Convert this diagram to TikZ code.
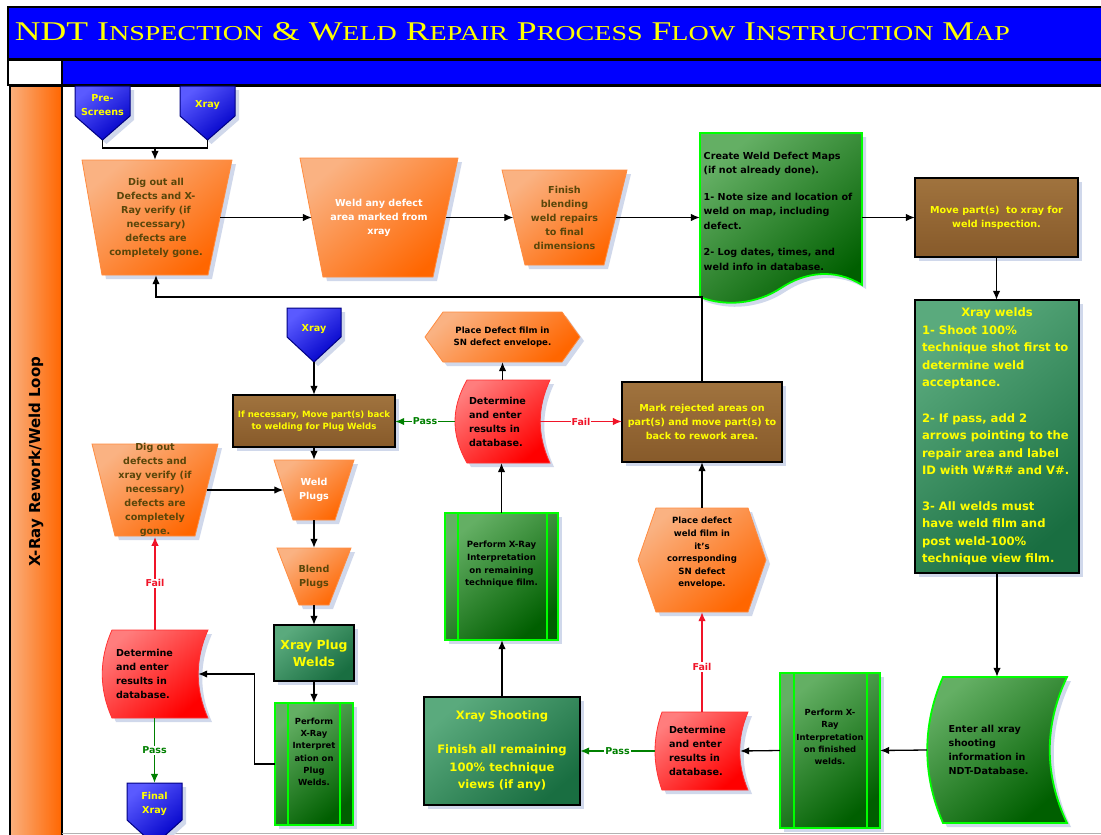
\documentclass[tikz,border=0pt]{standalone}
\usepackage{graphicx}
\usepackage{fontspec}
\setmainfont{DejaVu Sans}
\newfontfamily\titlefont{Liberation Serif}
\usetikzlibrary{arrows.meta,shadows}
\definecolor{orM}{RGB}{255,102,0}
\definecolor{orL}{RGB}{250,178,130}
\definecolor{orT}{RGB}{90,70,10}
\definecolor{blM}{RGB}{0,0,240}
\definecolor{blB}{RGB}{0,0,200}
\definecolor{blL}{RGB}{90,90,255}
\definecolor{blD}{RGB}{0,0,130}
\definecolor{brM}{RGB}{135,90,42}
\definecolor{brL}{RGB}{160,115,62}
\definecolor{grD}{RGB}{0,125,0}
\definecolor{grB2}{RGB}{0,95,0}
\definecolor{grL}{RGB}{100,175,100}
\definecolor{grB}{RGB}{0,255,0}
\definecolor{tlD}{RGB}{25,110,65}
\definecolor{tlM}{RGB}{40,140,90}
\definecolor{tlL}{RGB}{90,170,125}
\definecolor{rdM}{RGB}{255,0,0}
\definecolor{rdL}{RGB}{255,125,125}
\definecolor{ylw}{RGB}{255,255,0}
\definecolor{psG}{RGB}{0,128,0}
\definecolor{flR}{RGB}{240,20,40}
\definecolor{shd}{RGB}{208,216,235}
\definecolor{laneL}{RGB}{250,175,125}
\newcommand\Tsm[1]{{\fontsize{22}{22}\selectfont #1}}
\tikzset{
  sh/.style={drop shadow={shadow xshift=4pt,shadow yshift=-4pt,fill=shd,opacity=1}},
  orsh/.style={sh,top color=orL,middle color=orM,bottom color=orM,shading angle=40,draw=orM!75!white,line width=0.8pt},
  blsh/.style={sh,top color=blL,middle color=blM,bottom color=blB,shading angle=40,draw=blD,line width=1pt},
  brsh/.style={sh,top color=brL,bottom color=brM,draw=black,line width=2.2pt},
  grsh/.style={sh,top color=grL,middle color=grD,bottom color=grB2,shading angle=40,draw=grB,line width=1.8pt},
  tlsh/.style={sh,top color=tlL,middle color=tlM,bottom color=tlD,shading angle=40,draw=black,line width=2.5pt},
  rdsh/.style={sh,top color=rdL,middle color=rdM,bottom color=rdM,shading angle=40,draw=rdM!80!white,line width=0.8pt},
  hold/.style 2 args={inner sep=0pt,minimum width=#1pt,minimum height=#2pt},
  tb/.style={align=center,font=\bfseries\fontsize{9.6}{14}\selectfont},
  tbs/.style={align=center,font=\bfseries\fontsize{8.6}{12.6}\selectfont},
  tbp/.style={align=center,font=\bfseries\fontsize{8.4}{12.3}\selectfont},
  tbb/.style={align=center,font=\bfseries\fontsize{11.6}{17.5}\selectfont},
  otx/.style={tb,text=orT},
  wtx/.style={tb,text=white},
  ktx/.style={tb,text=black},
  ytx/.style={tb,text=ylw},
  ln/.style={draw=black,line width=1.3pt},
  arr/.style={ln,-{Latex[length=9pt,width=7.5pt]}},
  arrP/.style={arr,draw=psG},
  arrF/.style={arr,draw=flR},
  passlbl/.style={fill=white,inner sep=1pt,text=psG,font=\bfseries\fontsize{9.5}{10}\selectfont},
  faillbl/.style={fill=white,inner sep=1pt,text=flR,font=\bfseries\fontsize{9.5}{10}\selectfont},
}
\begin{document}
\begin{tikzpicture}[x=1pt,y=-1pt]
\useasboundingbox (0,0) rectangle (1101,835);
\fill[white] (0,0) rectangle (1101,835);
% header
\draw[black,line width=2pt,fill=blue] (8,7) rectangle (1106,59);
\draw[black,line width=1.5pt,fill=white] (8,60) rectangle (62,85);
\draw[black,line width=1.5pt,fill=blue] (62,60) rectangle (1106,85);
\node[inner sep=0pt,text=ylw] (title) at (512.5,32) {\resizebox{995pt}{18pt}{\titlefont\fontsize{28}{28}\selectfont NDT I\Tsm{NSPECTION} \& W\Tsm{ELD} R\Tsm{EPAIR} P\Tsm{ROCESS} F\Tsm{LOW} I\Tsm{NSTRUCTION} M\Tsm{AP}}};
% lane
\draw[black,line width=1.5pt,left color=laneL,right color=orM] (10,86) rectangle (62,840);
\node[rotate=90,font=\bfseries\fontsize{15}{15}\selectfont] (lane) at (36,461.5) {X-Ray Rework/Weld Loop};
\draw[black,line width=1.5pt] (62,86) -- (1106,86);
\draw[black!30,line width=1pt] (62,833) -- (1106,833);

% ---------- shapes ----------
\path[blsh] (75,86) -- (130,86) -- (130,116) -- (102.5,140) -- (75,116) -- cycle;
\path[blsh] (180,86) -- (235,86) -- (235,116) -- (207.5,140) -- (180,116) -- cycle;
\path[orsh] (82,160) -- (232,160) -- (208,275) -- (102,275) -- cycle;
\path[orsh] (300,158) -- (458,158) -- (433,277) -- (323,277) -- cycle;
\path[orsh] (502,170) -- (627,170) -- (604,265) -- (525,265) -- cycle;
\path[grsh] (700,133) -- (862,133) -- (862,285) .. controls (835,268) and (805,272) .. (781,288) .. controls (757,304) and (725,307) .. (700,297) -- cycle;
\path[brsh] (915,178) rectangle (1078,257);
\path[tlsh] (915,300) rectangle (1079,573);
\path[grsh] (943,677) -- (1067,677) .. controls (1044,725) and (1044,775) .. (1067,823) -- (943,823) .. controls (922,775) and (922,725) .. (943,677) -- cycle;
\path[grsh] (780,673) rectangle (880,828);
\draw[grB,line width=1.8pt] (794,673) -- (794,828) (867,673) -- (867,828);
\path[rdsh] (662,712) -- (748,712) .. controls (737,738) and (737,764) .. (748,790) -- (662,790) .. controls (652.7,764) and (652.7,738) .. (662,712) -- cycle;
\path[tlsh] (424,697) rectangle (580,805);
\path[orsh] (638,560) -- (656,508) -- (748,508) -- (766,560) -- (748,612) -- (656,612) -- cycle;
\path[brsh] (622,382) rectangle (782,462);
\path[rdsh] (467,380) -- (550,380) .. controls (537,408) and (537,435) .. (550,463) -- (467,463) .. controls (451,435) and (451,408) .. (467,380) -- cycle;
\path[orsh] (425,337) -- (443,312) -- (562,312) -- (580,337) -- (562,362) -- (443,362) -- cycle;
\path[grsh] (445,513) rectangle (558,640);
\draw[grB,line width=1.8pt] (458,513) -- (458,640) (547,513) -- (547,640);
\path[blsh] (287,308) -- (341,308) -- (341,337) -- (314,362) -- (287,337) -- cycle;
\path[brsh] (233,395) rectangle (395,447);
\path[orsh] (274,460) -- (354,460) -- (335,520) -- (293,520) -- cycle;
\path[orsh] (92,444) -- (218,444) -- (195,536) -- (115,536) -- cycle;
\path[orsh] (277,548) -- (351,548) -- (329,605) -- (299,605) -- cycle;
\path[tlsh] (274,625) rectangle (354,681);
\path[grsh] (275,703) rectangle (353,825);
\draw[grB,line width=1.8pt] (288,703) -- (288,825) (340,703) -- (340,825);
\path[rdsh] (112,630) -- (208,630) .. controls (195,659) and (195,689) .. (208,718) -- (112,718) .. controls (99,689) and (99,659) .. (112,630) -- cycle;
\path[blsh] (127,783) -- (182,783) -- (182,820) -- (154.5,845) -- (127,820) -- cycle;

% ---------- nodes ----------
\node[hold={55}{54},label={[ytx,yshift=8pt]center:{Pre-\\Screens}}] (pre) at (102.5,113) {};
\node[hold={55}{54},label={[ytx,yshift=8pt]center:{Xray}}] (xr1) at (207.5,113) {};
\node[hold={128}{115},otx] (dig1) at (156,217.5) {Dig out all\\Defects and X-\\Ray verify (if\\necessary)\\defects are\\completely gone.};
\node[hold={134}{119},wtx] (weld1) at (379,217.5) {Weld any defect\\area marked from\\xray};
\node[hold={102}{95},otx] (fin) at (564.5,217.5) {Finish\\blending\\weld repairs\\to final\\dimensions};
\node[hold={162}{169},label={[ktx,align=left,font=\bfseries\fontsize{9.6}{14.5}\selectfont,xshift=-3pt,yshift=6.5pt]center:{Create Weld Defect Maps\\(if not already done).\\[12pt]1- Note size and location of\\weld on map, including\\defect.\\[12pt]2- Log dates, times, and\\weld info in database.}}] (create) at (781,217.5) {};
\node[hold={163}{79},ytx] (move) at (996.5,217.5) {Move part(s)~ to xray for\\weld inspection.};
\node[hold={164}{273},ytx,tbb,text=ylw,align=left] (xw) at (997,436.5) {\makebox[150pt]{Xray welds}\\1- Shoot 100\%\\technique shot first to\\determine weld\\acceptance.\\[18pt]2- If pass, add 2\\arrows pointing to the\\repair area and label\\ID with W\#R\# and V\#.\\[18pt]3- All welds must\\have weld film and\\post weld-100\%\\technique view film.};
\node[hold={123}{146},ktx,align=left] (enter) at (988.5,750) {Enter all xray\\shooting\\information in\\NDT-Database.};
\node[hold={100}{155},label={[tbp,text=black,yshift=13.5pt]center:{Perform X-\\Ray\\Interpretation\\on finished\\welds.}}] (perf3) at (830,750.5) {};
\node[hold={85}{78},ktx,align=left] (det3) at (697.5,751) {Determine\\and enter\\results in\\database.};
\node[hold={156}{108},tbb,text=ylw] (shoot) at (502,751) {Xray Shooting\\[17pt]Finish all remaining\\100\% technique\\views (if any)};
\node[hold={128}{104},label={[tbs,text=black,yshift=7pt]center:{Place defect\\weld film in\\it’s\\corresponding\\SN defect\\envelope.}}] (hex2) at (702,560) {};
\node[hold={160}{80},ytx] (mark) at (702,422) {Mark rejected areas on\\part(s) and move part(s) to\\back to rework area.};
\node[hold={85}{83},ktx,align=left] (det2) at (497.5,421.5) {Determine\\and enter\\results in\\database.};
\node[hold={155}{50},tbs,text=black] (hex1) at (502.5,337) {Place Defect film in\\SN defect envelope.};
\node[hold={113}{127},label={[tbs,text=black,yshift=12pt]center:{Perform X-Ray\\Interpretation\\on remaining\\technique film.}}] (perf2) at (501.5,576.5) {};
\node[hold={54}{54},label={[ytx,yshift=6pt]center:{Xray}}] (xr2) at (314,335) {};
\node[hold={162}{52},tbs,text=ylw] (ifn) at (314,421) {If necessary, Move part(s) back\\to welding for Plug Welds};
\node[hold={61}{60},wtx] (wp) at (314,490) {Weld\\Plugs};
\node[hold={103}{92},otx] (dig2) at (155,490) {Dig out\\defects and\\xray verify (if\\necessary)\\defects are\\completely\\gone.};
\node[hold={52}{57},otx] (blend) at (314,576.5) {Blend\\Plugs};
\node[hold={80}{56},align=center,text=ylw,font=\bfseries\fontsize{12.4}{17}\selectfont] (xpw) at (314,653) {Xray Plug\\Welds};
\node[hold={78}{122},label={[tbp,text=black,yshift=12pt]center:{Perform\\X-Ray\\Interpret\\ation on\\Plug\\Welds.}}] (perf1) at (314,764) {};
\node[hold={96}{88},label={[ktx,align=left,xshift=-5.5pt]center:{Determine\\and enter\\results in\\database.}}] (det1) at (150,674) {};
\node[hold={55}{52},label={[ytx,yshift=5pt]center:{Final\\Xray}}] (final) at (154.5,809) {};

% ---------- connectors ----------
\coordinate (j1) at (155,148);
\draw[ln] (pre.south) |- (j1) -| (xr1.south);
\draw[arr] (j1) -- (j1 |- dig1.north);
\draw[arr] (dig1.east) -- (weld1.west);
\draw[arr] (weld1.east) -- (fin.west);
\draw[arr] (fin.east) -- (create.west);
\draw[arr] (create.east) -- (move.west);
\draw[arr] (move.south) -- (move.south |- xw.north);
\draw[arr] (xw.south) -- (xw.south |- enter.north);
\draw[arr] (enter.west) -- (perf3.east);
\draw[arr] (perf3.west) -- (det3.east);
\draw[arrP] (det3.west) -- node[passlbl]{Pass} (shoot.east);
\draw[arrF] (hex2.south |- det3.north) -- node[faillbl,pos=0.45]{Fail} (hex2.south);
\draw[arr] (hex2.north) -- (mark.south);
\coordinate (r1) at (702,297);
\draw[arr] (mark.north) -- (r1) -| (dig1.south);
\draw[arrF] (det2.east) -- node[faillbl]{Fail} (det2.east -| mark.west);
\draw[arrP] (det2.west) -- node[passlbl]{Pass} (det2.west -| ifn.east);
\draw[arr] (hex1.south |- det2.north) -- (hex1.south);
\draw[arr] (perf2.north) -- (perf2.north |- det2.south);
\draw[arr] (shoot.north) -- (shoot.north |- perf2.south);
\draw[arr] (xr2.south) -- (ifn.north);
\draw[arr] (ifn.south) -- (wp.north);
\draw[arr] (dig2.east) -- (wp.west);
\draw[arr] (wp.south) -- (blend.north);
\draw[arr] (blend.south) -- (xpw.north);
\draw[arr] (xpw.south) -- (perf1.north);
\draw[arr] (perf1.west) -- ++(-20,0) |- (det1.east);
\draw[arrF] (dig2.south |- det1.north) -- node[faillbl]{Fail} (dig2.south);
\draw[arrP] (final.north |- det1.south) -- node[passlbl]{Pass} (final.north);
\end{tikzpicture}
\end{document}
